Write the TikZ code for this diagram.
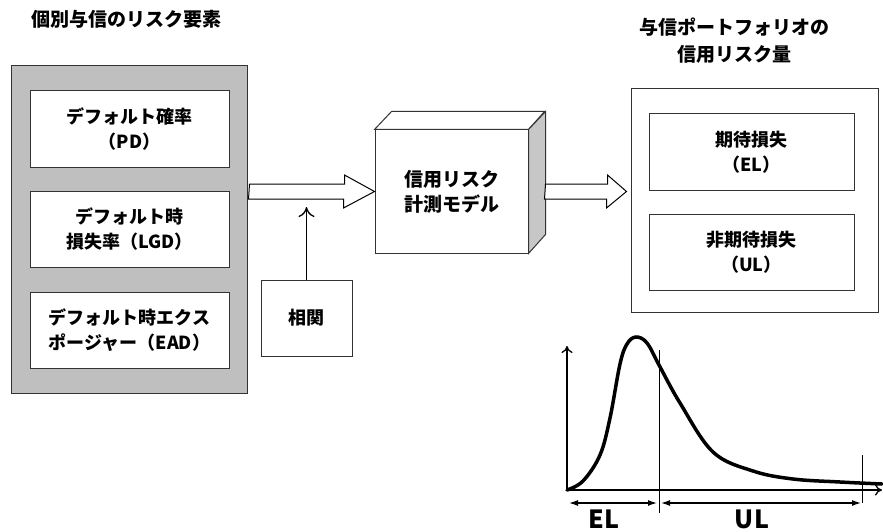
\documentclass[tikz,border=0pt]{standalone}
\usepackage{fontspec}
\setmainfont{Noto Sans CJK JP}
\usetikzlibrary{shapes,arrows,arrows.meta,calc,positioning}

\begin{document}
\begin{tikzpicture}[x=1pt,y=-1pt]
             \tikzstyle{factor} = [draw=black!80,fill=white,line width=1pt,minimum width=199pt,minimum height=76pt,inner sep=0pt,align=center,font=\fontsize{18}{25}\selectfont\bfseries]
             \tikzstyle{result} = [factor,minimum width=205pt]
             \tikzstyle{panel} = [draw=black!80,line width=1pt,inner sep=0pt]
             \tikzstyle{heading} = [align=center,font=\fontsize{19}{27}\selectfont\bfseries]
             \tikzstyle{hollow} = [draw=black,fill=white,line width=1pt,line join=miter]
             \tikzstyle{axis} = [line width=1.3pt,-{To[length=7pt,width=11pt]}]
             \tikzstyle{span} = [line width=1.3pt,{Latex[length=9pt,width=6pt]}-{Latex[length=9pt,width=6pt]}]
		\useasboundingbox (0,0) rectangle (883,532);
		% Risk factors
		\node[heading,anchor=west] (t_in) at (28,19) {個別与信のリスク要素};
		\node[panel,fill=black!25,minimum width=236pt,minimum height=327pt] (elems) at (129,229.5) {};
		\node[factor] (pd) at (129.5,129) {デフォルト確率\\（PD）};
		\node[factor] (lgd) at (129.5,229.5) {デフォルト時\\損失率（LGD）};
		\node[factor] (ead) at (129.5,330) {デフォルト時エクス\\ポージャー（EAD）};
		% Correlation
		\node[factor,minimum width=91pt] (corr) at (306.5,318) {相関};
		% Model
		\node[panel,fill=white,minimum width=153pt,minimum height=123pt] (model) at (451.5,191.5) {};
		\draw[panel,fill=white] (model.north west) -- ++(17,-18) -- ++(153,0) -- (model.north east) -- cycle;
		\draw[panel,fill=black!22] (model.north east) -- ++(17,-18) -- ++(0,123) -- (model.south east) -- cycle;
		\node[heading,font=\fontsize{19}{25}\selectfont\bfseries] at (model) {信用リスク\\計測モデル};
		% Portfolio
		\node[heading] (t_out) at (734,41) {与信ポートフォリオの\\信用リスク量};
		\node[panel,minimum width=247pt,minimum height=223pt] (port) at (754.5,200.5) {};
		\node[result] (el) at (751.5,152) {期待損失\\（EL）};
		\node[result] (ul) at (751.5,252.5) {非期待損失\\（UL）};
		% Arrows
		\draw[hollow] ($(elems.east |- model.west)+(2,-7.5)$) -- ++(95,0) -- ++(0,-9) -- (model.west) -- ++(-31,16.5) -- ++(0,-9) -- ++(-95,0) -- cycle;
		\coordinate (tip) at ($(port.west |- model.east)+(-4,0)$);
		\draw[hollow] ($(model.east)+(17,-7.5)$) -- ++(62,0) -- ++(0,-9) -- (tip) -- ++(-20,16.5) -- ++(0,-9) -- ++(-62,0) -- cycle;
		\coordinate (join) at ($(corr.north |- model.west)+(0,15.5)$);
		\draw[line width=1.3pt,-{To[length=10pt,width=16pt]}] (corr.north) -- (join);
		% Loss distribution
		\coordinate (o) at (567,490);
		\draw[axis] (o) -- (567,346);
		\draw[axis] (o) -- (882,490);
		\draw[line width=3.5pt,line cap=round] plot[smooth,tension=0.6] coordinates {(567,490) (583,481) (600,455) (610,418) (620,364) (627,344) (636,337) (647,343) (659,365) (680,403) (713,452) (753,471) (793,479) (840,482) (882,484)};
		\draw[line width=0.9pt] (659,350) -- (659,513);
		\draw[line width=0.9pt] (862,455) -- (862,503);
		\draw[span] (569,503) -- (657,503);
		\draw[span] (661,503) -- (861,503);
		\node[font=\fontsize{25}{25}\selectfont\bfseries] (t_el) at (604,519) {EL};
		\node[font=\fontsize{25}{25}\selectfont\bfseries] (t_ul) at (752,519) {UL};
		\end{tikzpicture}
\end{document}
